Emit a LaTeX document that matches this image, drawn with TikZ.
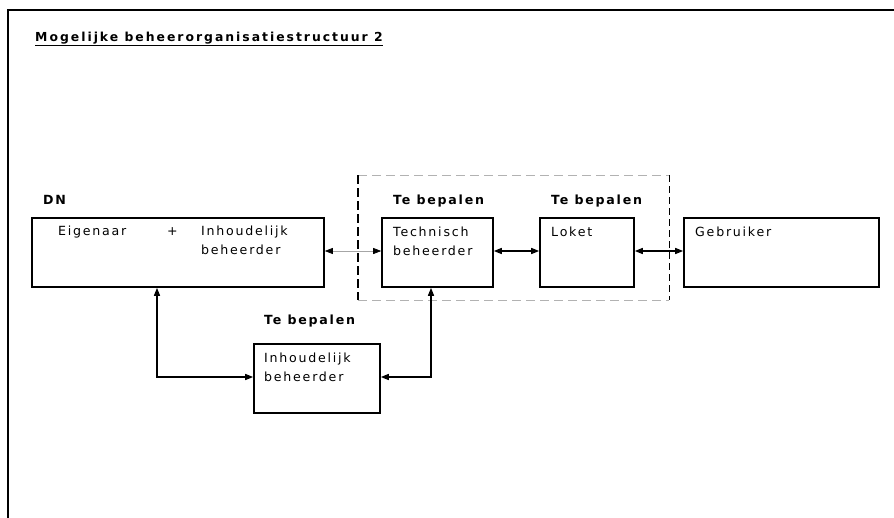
\documentclass[tikz,border=0pt]{standalone}
\usepackage{fontspec}
\setmainfont{DejaVu Sans}[LetterSpace=14]
\newfontfamily\titlefont{DejaVu Sans}[LetterSpace=16]
\usetikzlibrary{arrows.meta}
\begin{document}
\begin{tikzpicture}[x=1pt,y=-1pt,
  box/.style={draw=black,line width=1.6pt},
  lbl/.style={anchor=base west,inner sep=0pt,font=\fontsize{12.6}{14}\selectfont},
  hdr/.style={anchor=base west,inner sep=0pt,font=\fontsize{12.6}{14}\selectfont\bfseries},
  conn/.style={line width=1.4pt,{Triangle[length=8pt,width=6pt]}-{Triangle[length=8pt,width=6pt]}},
  greyconn/.style={line width=0.7pt,draw=gray!70,{Triangle[length=8pt,width=6pt,fill=black,color=black]}-{Triangle[length=8pt,width=6pt,fill=black,color=black]}}]
\useasboundingbox (0,0) rectangle (894,517);
% outer frame
\draw[line width=1.8pt] (8,530) -- (8,10) -- (900,10);
% title
\node[anchor=base west,inner sep=0pt,font=\titlefont\fontsize{12.4}{14}\selectfont\bfseries] (title) at (35,41) {\underline{Mogelijke beheerorganisatiestructuur 2}};
% dashed zone around the undetermined parties
\draw[gray!60,line width=0.9pt,dash pattern=on 9pt off 5pt] (358,175) -- (669,175);
\draw[gray!60,line width=0.9pt,dash pattern=on 9pt off 5pt] (358,300) -- (669,300);
\draw[line width=0.9pt,dash pattern=on 7pt off 4pt] (669,175) -- (669,300);
\draw[line width=2.6pt,dash pattern=on 9pt off 4pt] (358,175) -- (358,300);
% boxes
\node[box,minimum width=292pt,minimum height=69pt,inner sep=0pt] (dn) at (178,252.5) {};
\node[box,minimum width=111pt,minimum height=69pt,inner sep=0pt] (tech) at (437.5,252.5) {};
\node[box,minimum width=94pt,minimum height=69pt,inner sep=0pt] (loket) at (587,252.5) {};
\node[box,minimum width=195pt,minimum height=69pt,inner sep=0pt] (gebr) at (781.5,252.5) {};
\node[box,minimum width=126pt,minimum height=69pt,inner sep=0pt] (inh) at (317,378.5) {};
% headings
\node[hdr] (hdn) at (43,204) {DN};
\node[hdr] (htech) at (393,204) {Te bepalen};
\node[hdr] (hloket) at (551,204) {Te bepalen};
\node[hdr] (hinh) at (264,324) {Te bepalen};
% box texts
\node[lbl] (teig) at (58,235) {Eigenaar};
\node[lbl] (tplus) at (167,235) {+};
\node[lbl] (tinh1) at (201,235) {Inhoudelijk};
\node[lbl] (tinh2) at (201,254) {beheerder};
\node[lbl] (ttech1) at (393,236) {Technisch};
\node[lbl] (ttech2) at (393,255) {beheerder};
\node[lbl] (tlok) at (551,236) {Loket};
\node[lbl] (tgeb) at (695,236) {Gebruiker};
\node[lbl] (tih1) at (264,362) {Inhoudelijk};
\node[lbl] (tih2) at (264,381) {beheerder};
% connectors
\draw[greyconn] (dn.east |- 0,251) -- (tech.west |- 0,251);
\draw[conn] (tech.east |- 0,251) -- (loket.west |- 0,251);
\draw[conn] (loket.east |- 0,251) -- (gebr.west |- 0,251);
\draw[conn] (dn.south -| 157,0) |- (inh.west |- 0,377);
\draw[conn] (tech.south -| 431,0) |- (inh.east |- 0,377);
\end{tikzpicture}
\end{document}
